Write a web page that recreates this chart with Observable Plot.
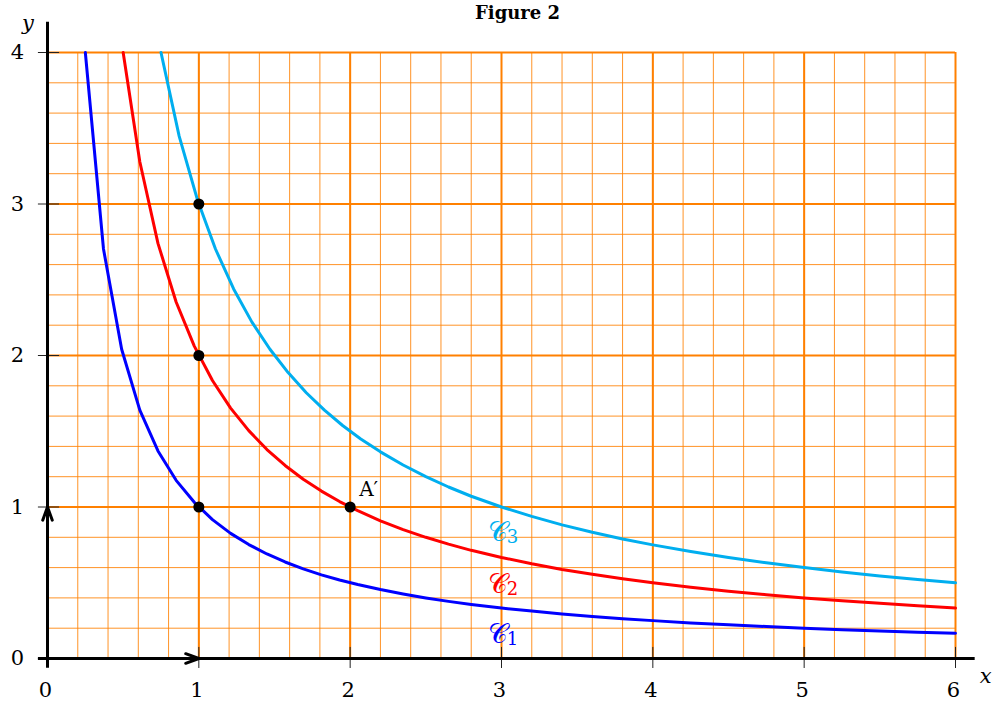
<!DOCTYPE html>
<html>
<head>
<meta charset="utf-8">
<script src="https://cdn.jsdelivr.net/npm/d3@7"></script>
<script src="https://cdn.jsdelivr.net/npm/@observablehq/plot@0.6"></script>
<style>
  html, body { margin: 0; padding: 0; background: #fff; }
</style>
</head>
<body>
<div id="chart"></div>
<script>
// ---- Data ----
const xTicks = [0, 1, 2, 3, 4, 5, 6];
const yTicks = [0, 1, 2, 3, 4];

const c1X = [0.25, 0.37, 0.49, 0.61, 0.73, 0.85, 0.97, 1.09, 1.21, 1.33, 1.45, 1.57, 1.69, 1.81, 1.93, 2.05, 2.2, 2.35, 2.5, 2.65, 2.8, 3, 3.2, 3.4, 3.6, 3.8, 4, 4.25, 4.5, 4.75, 5, 5.25, 5.5, 5.75, 6];
const c1Y = [4, 2.703, 2.041, 1.639, 1.370, 1.176, 1.031, 0.917, 0.826, 0.752, 0.690, 0.637, 0.592, 0.552, 0.518, 0.488, 0.455, 0.426, 0.400, 0.377, 0.357, 0.333, 0.313, 0.294, 0.278, 0.263, 0.250, 0.235, 0.222, 0.211, 0.200, 0.190, 0.182, 0.174, 0.167];

const c2X = [0.5, 0.61, 0.73, 0.85, 0.97, 1.09, 1.21, 1.33, 1.45, 1.57, 1.69, 1.81, 1.93, 2.05, 2.2, 2.35, 2.5, 2.65, 2.8, 3, 3.2, 3.4, 3.6, 3.8, 4, 4.25, 4.5, 4.75, 5, 5.25, 5.5, 5.75, 6];
const c2Y = [4, 3.279, 2.740, 2.353, 2.062, 1.835, 1.653, 1.504, 1.379, 1.274, 1.183, 1.105, 1.036, 0.976, 0.909, 0.851, 0.800, 0.755, 0.714, 0.667, 0.625, 0.588, 0.556, 0.526, 0.500, 0.471, 0.444, 0.421, 0.400, 0.381, 0.364, 0.348, 0.333];

const c3X = [0.75, 0.87, 0.99, 1.11, 1.23, 1.35, 1.47, 1.59, 1.71, 1.83, 1.95, 2.07, 2.2, 2.35, 2.5, 2.65, 2.8, 3, 3.2, 3.4, 3.6, 3.8, 4, 4.25, 4.5, 4.75, 5, 5.25, 5.5, 5.75, 6];
const c3Y = [4, 3.448, 3.030, 2.703, 2.439, 2.222, 2.041, 1.887, 1.754, 1.639, 1.538, 1.449, 1.364, 1.277, 1.200, 1.132, 1.071, 1.000, 0.938, 0.882, 0.833, 0.789, 0.750, 0.706, 0.667, 0.632, 0.600, 0.571, 0.545, 0.522, 0.500];

const dotX = [1, 1, 1, 2];
const dotY = [1, 2, 3, 1];

const curveNames = ["𝒞", "𝒞", "𝒞"];
const curveSubs = ["1", "2", "3"];
const curveLabelX = [3.0, 3.0, 3.0];
const curveLabelY = [0.165, 0.495, 0.84];
const curveColors = ["#0000FF", "#FF0000", "#00AEEF"];

const minorX = d3.range(0, 31).map(i => i / 5);
const minorY = d3.range(0, 21).map(i => i / 5);

// ---- Build tables ----
const toPts = (xs, ys) => xs.map((x, i) => ({x, y: ys[i]}));
const c1 = toPts(c1X, c1Y);
const c2 = toPts(c2X, c2Y);
const c3 = toPts(c3X, c3Y);
const dots = toPts(dotX, dotY);
const curveLabels = curveNames.map((t, i) => ({t, s: curveSubs[i], x: curveLabelX[i], y: curveLabelY[i], c: curveColors[i]}));

const orange = "#FF8000";
const serif = "'DejaVu Serif', serif";

const chart = Plot.plot({
  width: 997,
  height: 702,
  marginLeft: 47,
  marginRight: 42,
  marginTop: 52,
  marginBottom: 44,
  x: {type: "linear", domain: [0, 6], axis: null},
  y: {type: "linear", domain: [0, 4], axis: null},
  style: {fontFamily: serif, background: "white", overflow: "visible"},
  marks: [
    // minor grid
    Plot.ruleX(minorX, {y1: 0, y2: 4, stroke: orange, strokeWidth: 1, strokeOpacity: 0.85}),
    Plot.ruleY(minorY, {x1: 0, x2: 6, stroke: orange, strokeWidth: 1, strokeOpacity: 0.85}),
    // major grid
    Plot.ruleX(xTicks, {y1: 0, y2: 4, stroke: orange, strokeWidth: 2}),
    Plot.ruleY(yTicks, {x1: 0, x2: 6, stroke: orange, strokeWidth: 2}),
    // curves
    Plot.line(c1, {x: "x", y: "y", stroke: curveColors[0], strokeWidth: 3}),
    Plot.line(c2, {x: "x", y: "y", stroke: curveColors[1], strokeWidth: 3}),
    Plot.line(c3, {x: "x", y: "y", stroke: curveColors[2], strokeWidth: 3}),
    // tick marks
    Plot.ruleX(xTicks.slice(1), {y1: -0.066, y2: 0.073, stroke: "#222", strokeWidth: 1}),
    Plot.ruleY(yTicks, {x1: -0.06, x2: 0.08, stroke: "#222", strokeWidth: 1}),
    // axes
    Plot.ruleY([0], {x1: -0.06, x2: 6.13, stroke: "black", strokeWidth: 3}),
    Plot.ruleX([0], {y1: -0.065, y2: 4.2, stroke: "black", strokeWidth: 3}),
    // unit vectors
    Plot.arrow([{x1: 0, y1: 0, x2: 1, y2: 0}, {x1: 0, y1: 0, x2: 0, y2: 1}], {
      x1: "x1", y1: "y1", x2: "x2", y2: "y2", stroke: "black", strokeWidth: 3, headLength: 7, headAngle: 40
    }),
    // points
    Plot.dot(dots, {x: "x", y: "y", r: 5.5, fill: "black"}),
    // tick labels
    Plot.text(xTicks, {x: d => d, y: 0, text: d => String(d), dy: 32, dx: -2, fontSize: 21, fill: "black"}),
    Plot.text(yTicks, {x: 0, y: d => d, text: d => String(d), dx: -30, fontSize: 21, fill: "black"}),
    // axis names
    Plot.text(["x"], {x: 6.2, y: 0, text: d => d, dy: 18, fontSize: 21, fontStyle: "italic", fill: "black"}),
    Plot.text(["y"], {x: -0.13, y: 4.2, text: d => d, dy: 1, fontSize: 21, fontStyle: "italic", fill: "black"}),
    // point label
    Plot.text(["A′"], {x: 2, y: 1, text: d => d, dx: 9, dy: -17, textAnchor: "start", fontSize: 20, fill: "black"}),
    // curve labels
    Plot.text(curveLabels, {x: "x", y: "y", text: "t", fill: "c", fontSize: 27, dx: -4, dy: 1}),
    Plot.text(curveLabels, {x: "x", y: "y", text: "s", fill: "c", fontSize: 18, dx: 11, dy: 6}),
    // title
    Plot.text(["Figure 2"], {x: 3.106, y: 4.257, text: d => d, fontSize: 18, fontWeight: "bold", fill: "black"})
  ]
});

document.getElementById("chart").appendChild(chart);
</script>
</body>
</html>
